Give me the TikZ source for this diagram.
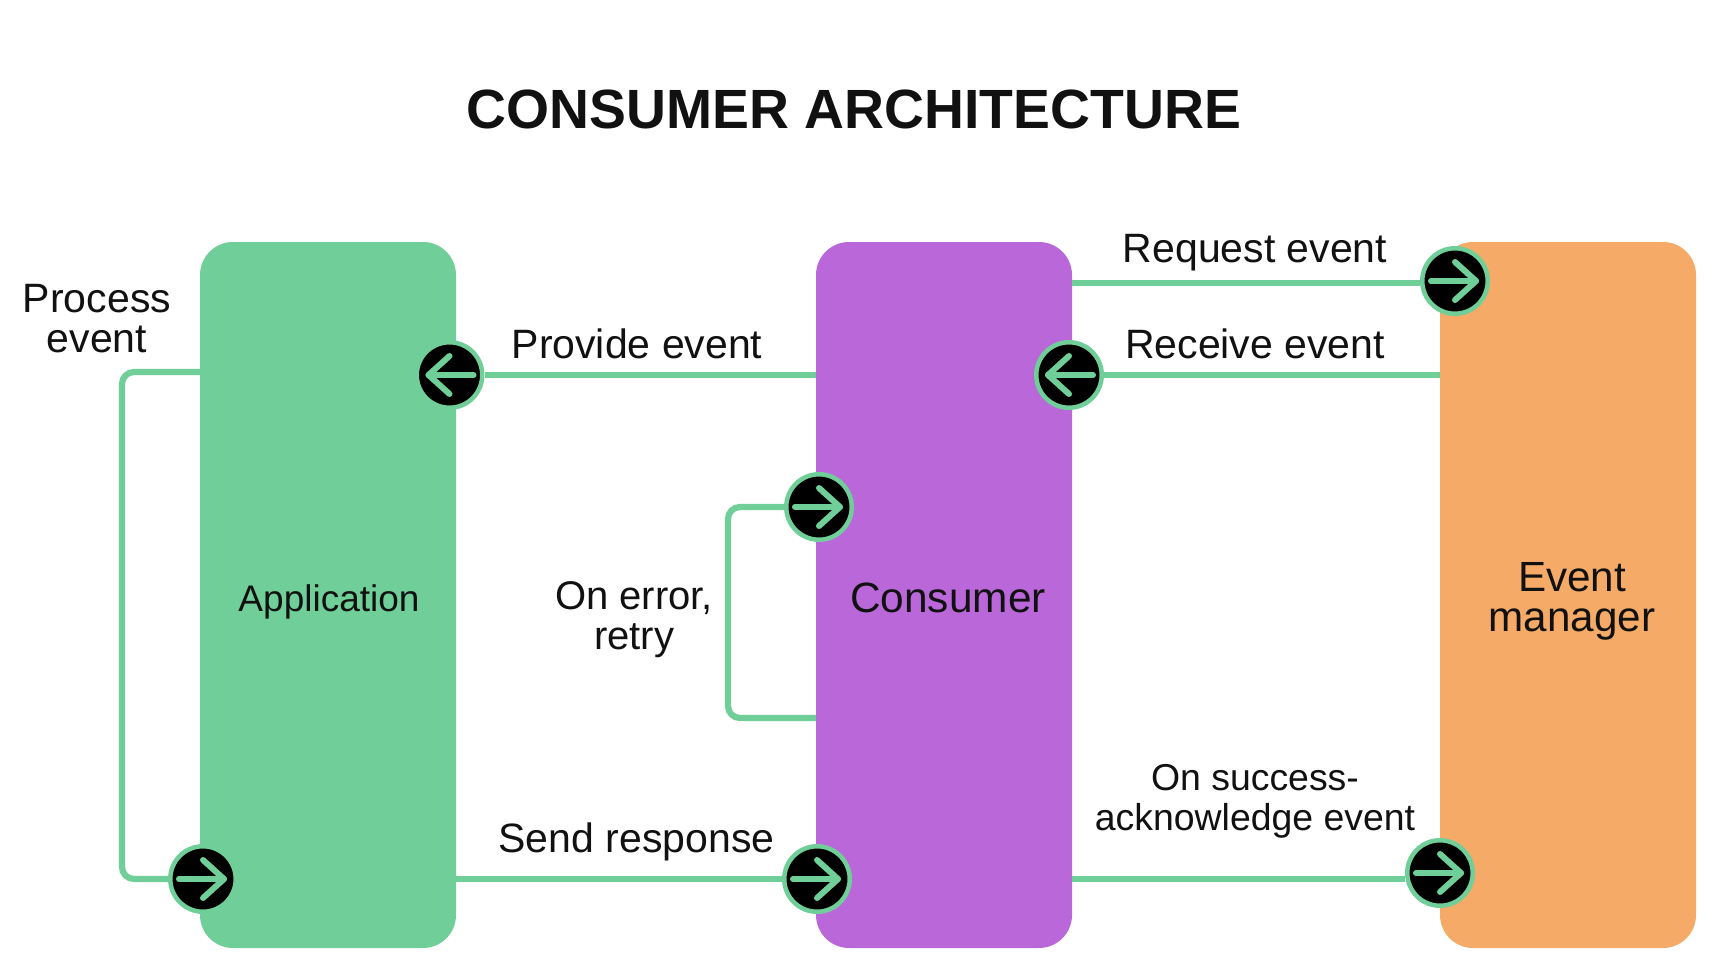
\documentclass[tikz,border=0pt]{standalone}
\usepackage{fontspec}
\setmainfont{Liberation Sans}
\definecolor{linkgreen}{HTML}{70CF98}
\definecolor{boxpurple}{HTML}{BA68D9}
\definecolor{boxorange}{HTML}{F5AB67}
\definecolor{ink}{HTML}{111111}
\tikzset{
  x=1pt,y=-1pt,
  box/.style={rectangle,rounded corners=33pt,minimum width=256pt,minimum height=706pt,inner sep=0pt,text=ink,align=center},
  label/.style={text=ink,align=center,inner sep=0pt,font=\fontsize{41}{40}\selectfont},
  link/.style={draw=linkgreen,line width=6.2pt,rounded corners=12pt},
  badge/.style={circle,draw=linkgreen,line width=4.5pt,fill=black,minimum size=65.5pt,inner sep=0pt},
  arrowmark/.style={draw=linkgreen,line width=6pt,line cap=round,line join=round},
  goright/.style={badge,path picture={
    \draw[arrowmark] ([xshift=-24pt]path picture bounding box.center) -- ([xshift=21pt]path picture bounding box.center);
    \draw[arrowmark] ([yshift=19pt]path picture bounding box.center) -- ([xshift=21pt]path picture bounding box.center) -- ([yshift=-19pt]path picture bounding box.center);}},
  goleft/.style={badge,path picture={
    \draw[arrowmark] ([xshift=24pt]path picture bounding box.center) -- ([xshift=-21pt]path picture bounding box.center);
    \draw[arrowmark] ([yshift=19pt]path picture bounding box.center) -- ([xshift=-21pt]path picture bounding box.center) -- ([yshift=-19pt]path picture bounding box.center);}},
}
\begin{document}
\begin{tikzpicture}
\useasboundingbox (0,0) rectangle (1712,960);
\fill[white] (0,0) rectangle (1712,960);
\node[text=ink,inner sep=0pt,font=\fontsize{55.3}{60}\selectfont\bfseries] (title) at (854,109.5) {CONSUMER ARCHITECTURE};

\node[box,fill=linkgreen] (app) at (328,595) {};
\node[box,fill=boxpurple] (cons) at (944,595) {};
\node[box,fill=boxorange] (mgr) at (1568,595) {};
\node[text=ink,inner sep=0pt,font=\fontsize{37}{40}\selectfont] (apptext) at (329,602) {Application};
\node[text=ink,inner sep=0pt,font=\fontsize{42.4}{40}\selectfont] (constext) at (948,598) {Consumer};
\node[text=ink,inner sep=0pt,align=center,font=\fontsize{42.2}{40}\selectfont] (mgrtext) at (1572,601.5) {Event\\manager};

\node[goright] (req) at (1455,281) {};
\node[goleft] (recv) at (1069,375) {};
\node[goleft] (prov) at (449.5,375) {};
\node[goright] (retry) at (819,507) {};
\node[goright] (send) at (817,879) {};
\node[goright] (proc) at (203,879) {};
\node[goright] (ack) at (1440,873) {};

\coordinate (loopa) at (122,372);
\coordinate (loopb) at (728,718);
\coordinate (ackline) at (1072,879);
\coordinate (reqline) at (1072,283);

\draw[link] (reqline) -- (req.west |- reqline);
\draw[link] (mgr.west |- recv) -- (recv.east);
\draw[link] (cons.west |- prov) -- (prov.east);
\draw[link] (app.east |- send) -- (send.west);
\draw[link] (ackline) -- (ack.west |- ackline);
\draw[link] (app.west |- loopa) -- (loopa) |- (proc.west);
\draw[link] (cons.west |- loopb) -- (loopb) |- (retry.west);

\node[label] (l1) at (97,319) {Process\\event};
\node[label] (l2) at (1255,253) {Request event};
\node[label] (l3) at (637,344) {Provide event};
\node[label] (l4) at (1255,344) {Receive event};
\node[label,font=\fontsize{40}{40}\selectfont] (l5) at (634,620) {On error,\\retry};
\node[label] (l6) at (636.5,842) {Send response};
\node[label,font=\fontsize{37.4}{40}\selectfont] (l7) at (1255,801) {On success-\\acknowledge event};
\end{tikzpicture}
\end{document}
